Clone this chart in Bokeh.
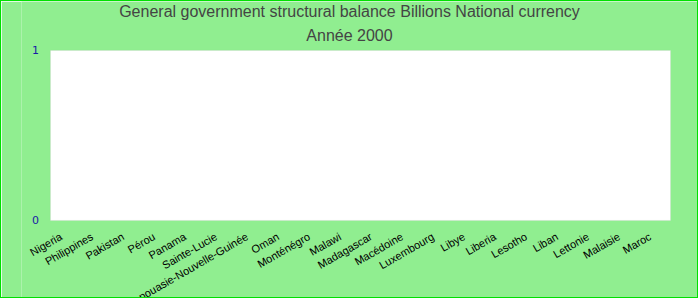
from bokeh.plotting import figure
from bokeh.models import Range1d, FactorRange, ColumnDataSource, BoxAnnotation
from bokeh.embed import file_html
from bokeh.resources import INLINE

categories = ["Nigeria", "Philippines", "Pakistan", "Pérou", "Panama", "Sainte-Lucie",
              "Papouasie-Nouvelle-Guinée", "Oman", "Monténégro", "Malawi", "Madagascar",
              "Macédoine", "Luxembourg", "Libye", "Liberia", "Lesotho", "Liban",
              "Lettonie", "Malaisie", "Maroc"]
values = [0, 0, 0, 0, 0, 0, 0, 0, 0, 0, 0, 0, 0, 0, 0, 0, 0, 0, 0, 0]
title_lines = ["General government structural balance Billions National currency",
               "Année 2000"]
y_ticks = [0, 1]
y_tick_labels = ["0", "1"]

FONT = "Liberation Sans"
GREEN = "#90EE90"

# The frame spans the whole canvas so that titles and rotated category labels are not
# clipped; the white plotting area is drawn as a box from y=0 to y=1 over all categories.
x_range = FactorRange(factors=categories, range_padding=0.935, range_padding_units="absolute")
y_range = Range1d(-0.4647, 1.2882)

p = figure(x_range=x_range, y_range=y_range, width=698, height=298,
           output_backend="svg", toolbar_location=None,
           min_border_left=20, min_border_right=0, min_border_top=0, min_border_bottom=0)
p.title = None
p.background_fill_color = GREEN
p.border_fill_color = GREEN
p.outline_line_color = None
p.styles = {"border": "1px solid #00e000"}
p.xaxis.visible = False
p.yaxis.visible = False
p.xgrid.grid_line_color = None
p.ygrid.grid_line_color = None

plot_area = BoxAnnotation(left=0, right=len(categories), bottom=y_ticks[0], top=y_ticks[-1],
                          fill_color="white", fill_alpha=1.0, line_color="#d0d0d0",
                          line_width=1, level="underlay")
p.add_layout(plot_area)

src = ColumnDataSource(dict(x=categories, top=values, y0=[0] * len(categories)))
p.vbar(x="x", top="top", width=0.6, source=src, fill_color="#4472c4", line_color=None)

# two-line title, centred on the canvas, above the top of the plotting area
tsrc = ColumnDataSource(dict(x=[len(categories) / 2] * 2, y=[y_ticks[-1]] * 2,
                             t=title_lines, dy=[-39, -15]))
p.text(x="x", y="y", text="t", source=tsrc, x_offset=-11, y_offset="dy",
       text_align="center", text_baseline="middle",
       text_font={"value": FONT}, text_font_size={"value": "16px"}, text_color="#444444")

# category labels
p.text(x="x", y="y0", text="x", source=src, angle=30, angle_units="deg",
       text_align="right", text_baseline="middle", x_offset=-5, y_offset=15,
       text_font={"value": FONT}, text_font_size={"value": "11px"}, text_color="black")

# value-axis tick labels
ysrc = ColumnDataSource(dict(x=[categories[0]] * len(y_ticks), y=y_ticks, t=y_tick_labels))
p.text(x="x", y="y", text="t", source=ysrc, text_align="right", text_baseline="middle",
       x_offset=-27, text_font={"value": "DejaVu Sans"}, text_font_size={"value": "11px"},
       text_color="#1a1aa6")

open("out.html", "w").write(file_html(p, INLINE))
